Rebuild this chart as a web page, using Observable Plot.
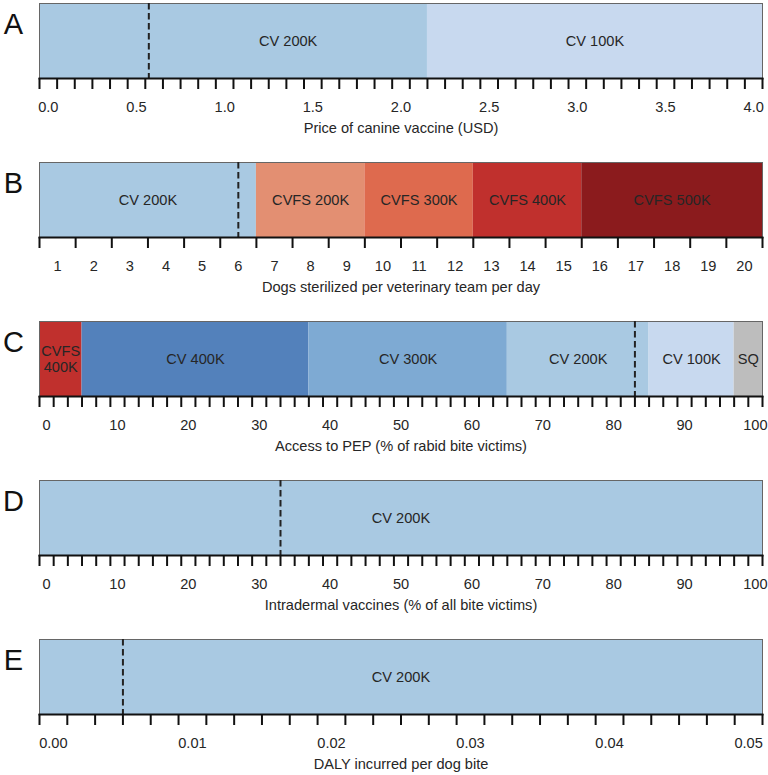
<!DOCTYPE html>
<html><head><meta charset="utf-8">
<script src="https://cdn.jsdelivr.net/npm/d3@7"></script>
<script src="https://cdn.jsdelivr.net/npm/@observablehq/plot@0.6"></script>
<style>
body{margin:0;background:#fff;font-family:"Liberation Sans",Arial,sans-serif}
#chart svg{display:block}
</style>
</head><body><div id="chart"></div>
<script>
// Colour key
const colorNames  = ["CV 100K","CV 200K","CV 300K","CV 400K","CVFS 200K","CVFS 300K","CVFS 400K","CVFS 500K","SQ"];
const colorValues = ["#c8d9ef","#a9c9e2","#7eaad3","#5381bb","#e38f72","#de6a4e","#c0302d","#8b1b1d","#bdbdbd"];

// Panel A
const aLetter = "A", aTitle = "Price of canine vaccine (USD)";
const aDomain = [-0.05, 4.05], aStep = 0.1;
const aTickLabels = [0,0.5,1,1.5,2,2.5,3,3.5,4];
const aSegments = ["CV 200K","CV 100K"];
const aStarts = [-0.05, 2.15];
const aEnds   = [2.15, 4.05];
const aLabelX = [1.36, 3.1];
const aDashed = 0.57;

// Panel B
const bLetter = "B", bTitle = "Dogs sterilized per veterinary team per day";
const bDomain = [0.5, 20.5], bStep = 1;
const bTickLabels = [1,2,3,4,5,6,7,8,9,10,11,12,13,14,15,16,17,18,19,20];
const bSegments = ["CV 200K","CVFS 200K","CVFS 300K","CVFS 400K","CVFS 500K"];
const bStarts = [0.5, 6.5, 9.5, 12.5, 15.5];
const bEnds   = [6.5, 9.5, 12.5, 15.5, 20.5];
const bLabelX = [3.5, 8, 11, 14, 18];
const bDashed = 6;

// Panel C
const cLetter = "C", cTitle = "Access to PEP (% of rabid bite victims)";
const cDomain = [-1, 101], cStep = 2;
const cTickLabels = [0,10,20,30,40,50,60,70,80,90,100];
const cSegments = ["CVFS 400K","CV 400K","CV 300K","CV 200K","CV 100K","SQ"];
const cTexts    = ["CVFS\n400K","CV 400K","CV 300K","CV 200K","CV 100K","SQ"];
const cStarts = [-1, 5, 37, 65, 85, 97];
const cEnds   = [5, 37, 65, 85, 97, 101];
const cLabelX = [2, 21, 51, 75, 91, 99];
const cDashed = 83;

// Panel D
const dLetter = "D", dTitle = "Intradermal vaccines (% of all bite victims)";
const dDomain = [-1, 101], dStep = 2;
const dTickLabels = [0,10,20,30,40,50,60,70,80,90,100];
const dSegments = ["CV 200K"];
const dStarts = [-1];
const dEnds   = [101];
const dLabelX = [50];
const dDashed = 33;

// Panel E
const eLetter = "E", eTitle = "DALY incurred per dog bite";
const eDomain = [-0.001, 0.051], eStep = 0.002;
const eTickLabels = [0,0.01,0.02,0.03,0.04,0.05];
const eSegments = ["CV 200K"];
const eStarts = [-0.001];
const eEnds   = [0.051];
const eLabelX = [0.025];
const eDashed = 0.005;

function panel(p, height) {
  const segs = p.segments.map((s, i) => ({
    key: s, text: (p.texts || p.segments)[i], x1: p.starts[i], x2: p.ends[i], lx: p.labelX[i]
  }));
  const n = Math.round((p.domain[1] - p.domain[0]) / p.step);
  const bounds = d3.range(n + 1).map(i => p.domain[0] + i * p.step);
  const fs = 14.6;
  return Plot.plot({
    width: 768, height,
    marginLeft: 39, marginRight: 6, marginTop: 3, marginBottom: height - 3 - 75,
    x: {domain: p.domain},
    color: {domain: colorNames, range: colorValues},
    style: {fontFamily: '"Liberation Sans", Arial, sans-serif', fontSize: fs + "px", color: "#222", background: "#fff"},
    marks: [
      Plot.rect(segs, {x1: "x1", x2: "x2", fill: "key"}),
      Plot.frame({stroke: "#666", strokeWidth: 1}),
      Plot.text(segs, {x: "lx", text: "text", frameAnchor: "middle", fontSize: fs, fill: "#262626", lineHeight: 1.05}),
      Plot.ruleX([p.dashed], {stroke: "#222", strokeWidth: 2, strokeDasharray: "6.5,3.5"}),
      Plot.frame({anchor: "bottom", stroke: "#111", strokeWidth: 2}),
      Plot.axisX(bounds, {tickSize: 11, tickFormat: () => "", stroke: "#111", strokeWidth: 2, label: null}),
      Plot.axisX(p.tickLabels, {tickSize: 0, tickPadding: 23, tickFormat: p.format, fontSize: fs, fill: "#262626", label: null}),
      Plot.text([p.title], {frameAnchor: "bottom", lineAnchor: "middle", dy: 50, fontSize: fs, fill: "#262626"}),
      Plot.text([p.letter], {frameAnchor: "top-left", textAnchor: "middle", lineAnchor: "middle", dx: -26, dy: 21, fontSize: 29, fill: "#111"})
    ]
  });
}

const chart = document.getElementById("chart");
chart.append(panel({letter: aLetter, title: aTitle, domain: aDomain, step: aStep, tickLabels: aTickLabels, format: d3.format(".1f"),
  segments: aSegments, starts: aStarts, ends: aEnds, labelX: aLabelX, dashed: aDashed}, 159));
chart.append(panel({letter: bLetter, title: bTitle, domain: bDomain, step: bStep, tickLabels: bTickLabels, format: d3.format("d"),
  segments: bSegments, starts: bStarts, ends: bEnds, labelX: bLabelX, dashed: bDashed}, 159));
chart.append(panel({letter: cLetter, title: cTitle, domain: cDomain, step: cStep, tickLabels: cTickLabels, format: d3.format("d"),
  segments: cSegments, texts: cTexts, starts: cStarts, ends: cEnds, labelX: cLabelX, dashed: cDashed}, 159));
chart.append(panel({letter: dLetter, title: dTitle, domain: dDomain, step: dStep, tickLabels: dTickLabels, format: d3.format("d"),
  segments: dSegments, starts: dStarts, ends: dEnds, labelX: dLabelX, dashed: dDashed}, 159));
chart.append(panel({letter: eLetter, title: eTitle, domain: eDomain, step: eStep, tickLabels: eTickLabels, format: d3.format(".2f"),
  segments: eSegments, starts: eStarts, ends: eEnds, labelX: eLabelX, dashed: eDashed}, 139));
</script>
</body></html>
